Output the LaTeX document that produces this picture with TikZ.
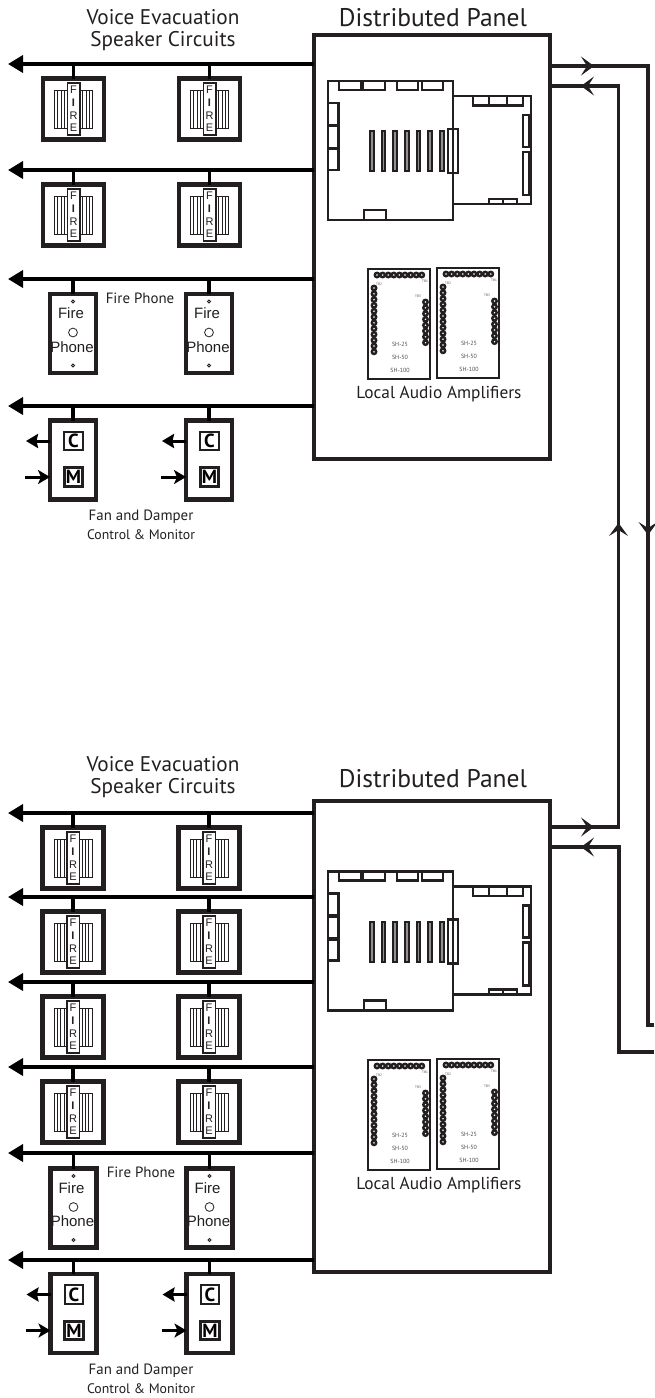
\documentclass[tikz,border=0pt]{standalone}
\usepackage{fontspec}
\setmainfont{PT Sans}
\newfontfamily\arialf{Liberation Sans}
\usetikzlibrary{arrows.meta}
\definecolor{ink}{HTML}{231F20}
\tikzset{
  panelbox/.style={draw=ink,line width=3.2pt,fill=white,rectangle,inner sep=0pt,outer sep=0pt},
  devbox/.style={draw=ink,line width=4.2pt,fill=white,rectangle,inner sep=0pt,outer sep=0pt},
  busline/.style={draw=black,line width=3.6pt,-{Triangle[length=15pt,width=17pt]}},
  tapline/.style={draw=black,line width=3.8pt},
  ringline/.style={draw=ink,line width=3.4pt,line join=miter},
  chev/.style={draw=ink,line width=3.4pt,-{Stealth[length=13pt,width=19pt,inset=6pt]}},
  smallout/.style={draw=black,line width=3pt,-{Stealth[length=12pt,width=14pt,inset=1.5pt]}},
  smallin/.style={draw=black,line width=3pt,-{Stealth[length=12pt,width=14pt,inset=3pt]}},
  brd/.style={draw=ink,line width=2.1pt,fill=white},
  titletext/.style={text=ink,inner sep=0pt,font=\fontsize{21.2}{24}\selectfont},
  dptext/.style={text=ink,inner sep=0pt,font=\fontsize{25.5}{28}\selectfont},
  labeltext/.style={text=ink,inner sep=0pt,font=\fontsize{14.9}{17}\selectfont},
  ctltext/.style={text=ink,inner sep=0pt,font=\fontsize{13.8}{17}\selectfont},
  amptext/.style={text=ink,inner sep=0pt,font=\fontsize{17.3}{20}\selectfont},
  firetext/.style={text=ink,inner sep=0pt,font=\arialf\fontsize{11}{12}\selectfont},
  phonetext/.style={text=ink,inner sep=0pt,font=\arialf\fontsize{15}{17}\selectfont},
  shtext/.style={text=ink!80,inner sep=0pt,font=\fontsize{6}{7}\selectfont},
  tbtext/.style={text=ink!80,inner sep=0pt,font=\fontsize{3.4}{4}\selectfont},
  letterbox/.style={rectangle,draw=ink,fill=white,line width=2.2pt,minimum width=18.5pt,minimum height=18.5pt,inner sep=0pt,outer sep=0pt,font=\bfseries\fontsize{19}{19}\selectfont,text=black},
}
% name, centre x, centre y, bus coordinate
\newcommand\speakerdev[4]{%
  \node[devbox,minimum width=61pt,minimum height=61pt] (#1) at (#2,#3) {};
  \draw[tapline] (#1.north) -- (#1.north |- #4);
  \begin{scope}[shift={(#2,#3)}]
    \draw[ink,line width=.9pt] (-19,-19) rectangle (19,19);
    \foreach \gx in {-15.7,-12.4,-9.1,9.1,12.4,15.7}{\draw[ink,line width=.7pt] (\gx,-19) -- (\gx,19);}
    \draw[ink,fill=white,line width=1.5pt] (-6,-26) rectangle (6.5,26);
    \node[firetext] (#1-f) at (0,-19) {F};
    \node[firetext] (#1-i) at (0,-6) {\bfseries I};
    \node[firetext] (#1-r) at (0,7) {R};
    \node[firetext] (#1-e) at (0,19) {E};
  \end{scope}
}
\newcommand\phonedev[4]{%
  \node[devbox,minimum width=46pt,minimum height=79pt] (#1) at (#2,#3) {};
  \draw[tapline] (#1.north) -- (#1.north |- #4);
  \begin{scope}[shift={(#2,#3)}]
    \draw[ink,line width=.9pt] (0,-32) circle (1.5);
    \node[phonetext] (#1-a) at (-2,-20) {Fire};
    \draw[ink,line width=.8pt] (0,-1) circle (4.4);
    \node[phonetext] (#1-b) at (-1,13.5) {Phone};
    \draw[ink,line width=.9pt] (0,32) circle (1.5);
  \end{scope}
}
\newcommand\fandev[4]{%
  \node[devbox,minimum width=46pt,minimum height=79pt] (#1) at (#2,#3) {};
  \draw[tapline] (#1.north) -- (#1.north |- #4);
  \coordinate (#1-co) at (#2-47,#3-19);
  \coordinate (#1-mo) at (#2-48,#3+17);
  \draw[smallout] (#1.west |- #1-co) -- (#1-co);
  \draw[smallin] (#1-mo) -- (#1.west |- #1-mo);
  \node[letterbox] (#1-c) at (#2+.5,#3-19) {C};
  \node[letterbox,line width=3.4pt] (#1-m) at (#2+.5,#3+17) {M};
}
\newcommand\boardset[2]{%
  \begin{scope}[shift={(0,#2)}]
    \draw[brd] (453,96) rectangle (531,204);
    \draw[brd] (328,81) rectangle (453,220);
    \foreach \xa/\xb in {339/361,363/385,397/418,422/443}{\draw[brd] (\xa,81) rectangle (\xb,90);}
    \foreach \ya/\yb in {103/125,126/148,149/170}{\draw[brd] (328,\ya) rectangle (338.5,\yb);}
    \foreach \sx in {372,383.5,395,407,418.5,430,442}{\draw[ink,line width=2pt,fill=ink!50] (\sx-1.8,131) rectangle (\sx+1.8,171);}
    \draw[brd] (448,129) rectangle (458,173);
    \draw[ink,line width=2.1pt] (453,129) -- (453,173);
    \draw[brd] (364,210) rectangle (386,220);
    \foreach \xa/\xb in {473/489,489/507,507/523}{\draw[brd] (\xa,96) rectangle (\xb,105.5);}
    \draw[brd] (523,115) rectangle (529,147);
    \draw[brd] (523,152) rectangle (529,195);
    \foreach \xa/\xb in {489/503,503/517}{\draw[brd] (\xa,199) rectangle (\xb,204);}
  \end{scope}
}
\newcommand\ampmod[3]{%
  \begin{scope}[shift={(#2,#3)}]
    \draw[ink,line width=2.6pt] (0,0) rectangle (62,110);
    \foreach \k in {0,...,8}{\draw[ink,line width=2.4pt,fill=white] (9+5.6*\k,6) circle (2.2);}
    \foreach \k in {0,...,11}{\draw[ink,line width=2.4pt,fill=white] (6,19+5.8*\k) circle (2.2);}
    \foreach \k in {0,...,7}{\draw[ink,line width=2.4pt,fill=white] (57.5,33+5.8*\k) circle (2.2);}
    \node[tbtext] (#1-tb2) at (11,15) {TB2};
    \node[tbtext] (#1-tb1) at (57,12) {TB1};
    \node[tbtext] (#1-tb3) at (50,27) {TB3};
    \node[shtext] (#1-s25) at (32,75) {SH-25};
    \node[shtext] (#1-s50) at (32,88) {SH-50};
    \node[shtext] (#1-s100) at (32,101) {SH-100};
  \end{scope}
}
\begin{document}
\begin{tikzpicture}[x=1pt,y=-1pt]
\useasboundingbox (0,0) rectangle (654,1398);
\fill[white] (0,0) rectangle (654,1398);

% ---- panels
\node[panelbox,minimum width=236pt,minimum height=424pt] (panelA) at (432,247) {};
\node[panelbox,minimum width=236pt,minimum height=471pt] (panelB) at (432,1036.5) {};

% ---- titles
\node[titletext] (vA1) at (163,17) {Voice Evacuation};
\node[titletext] (vA2) at (163,41) {Speaker Circuits};
\node[dptext] (dA) at (433,18) {Distributed Panel};
\node[titletext] (vB1) at (163,764) {Voice Evacuation};
\node[titletext] (vB2) at (163,788) {Speaker Circuits};
\node[dptext] (dB) at (433,779) {Distributed Panel};

% ---- bus ends
\foreach \nm/\yy in {a1/64,a2/170,a3/279,a4/406,b1/813,b2/897,b3/982,b4/1067,b5/1153,b6/1260}{
  \coordinate (bus\nm) at (8,\yy);
  \coordinate (src\nm) at (314,\yy);
  \draw[busline] (src\nm) -- (bus\nm);
}

% ---- top devices
\speakerdev{sa1}{73.5}{109}{busa1}
\speakerdev{sa2}{209.5}{109}{busa1}
\speakerdev{sa3}{73.5}{215}{busa2}
\speakerdev{sa4}{209.5}{215}{busa2}
\phonedev{pa1}{73}{333.5}{busa3}
\phonedev{pa2}{209}{333.5}{busa3}
\node[labeltext] (fpA) at (140,298) {Fire Phone};
\fandev{fa1}{73}{460}{busa4}
\fandev{fa2}{209}{460}{busa4}
\node[labeltext] (faA1) at (141,517) {Fan and Damper};
\node[ctltext] (faA2) at (141,535) {Control \& Monitor};

% ---- bottom devices
\speakerdev{sb1}{73}{858}{busb1}
\speakerdev{sb2}{209}{858}{busb1}
\speakerdev{sb3}{73}{942}{busb2}
\speakerdev{sb4}{209}{942}{busb2}
\speakerdev{sb5}{73}{1027}{busb3}
\speakerdev{sb6}{209}{1027}{busb3}
\speakerdev{sb7}{73}{1112}{busb4}
\speakerdev{sb8}{209}{1112}{busb4}
\phonedev{pb1}{73.5}{1208}{busb5}
\phonedev{pb2}{209.5}{1208}{busb5}
\node[labeltext] (fpB) at (141,1172) {Fire Phone};
\fandev{fb1}{73.5}{1313.5}{busb6}
\fandev{fb2}{209.5}{1313.5}{busb6}
\node[labeltext] (faB1) at (141,1371) {Fan and Damper};
\node[ctltext] (faB2) at (141,1389) {Control \& Monitor};

% ---- boards and amplifiers
\boardset{ba}{0}
\boardset{bb}{790.5}
\ampmod{am1}{368}{269}
\ampmod{am2}{437}{268}
\ampmod{am3}{368}{1060}
\ampmod{am4}{437}{1059}
\node[amptext] (laA) at (439,394) {Local Audio Amplifiers};
\node[amptext] (laB) at (439,1185) {Local Audio Amplifiers};

% ---- riser wiring
\coordinate (o1) at (550,66);
\coordinate (o1c) at (648,66);
\coordinate (o1b) at (648,1025);
\coordinate (o1e) at (654,1025);
\coordinate (o1t) at (594,66);
\coordinate (o1d) at (648,535);
\draw[ringline] (o1) -- (o1c) -- (o1b) -- (o1e);
\draw[chev] (o1) -- (o1t);
\draw[chev] (o1c) -- (o1d);

\coordinate (o2) at (550,86);
\coordinate (o2c) at (618.5,86);
\coordinate (o2t) at (581,86);
\coordinate (o2u) at (618.5,523);
\coordinate (o3c) at (618.5,827);
\coordinate (o3) at (550,827);
\coordinate (o3t) at (594,827);
\draw[ringline] (o2) -- (o2c) -- (o3c) -- (o3);
\draw[chev] (o2c) -- (o2t);
\draw[chev] (o3c) -- (o2u);
\draw[chev] (o3) -- (o3t);

\coordinate (o4) at (550,847);
\coordinate (o4c) at (619,847);
\coordinate (o4b) at (619,1052);
\coordinate (o4e) at (654,1052);
\coordinate (o4t) at (581,847);
\draw[ringline] (o4) -- (o4c) -- (o4b) -- (o4e);
\draw[chev] (o4c) -- (o4t);
\end{tikzpicture}
\end{document}
